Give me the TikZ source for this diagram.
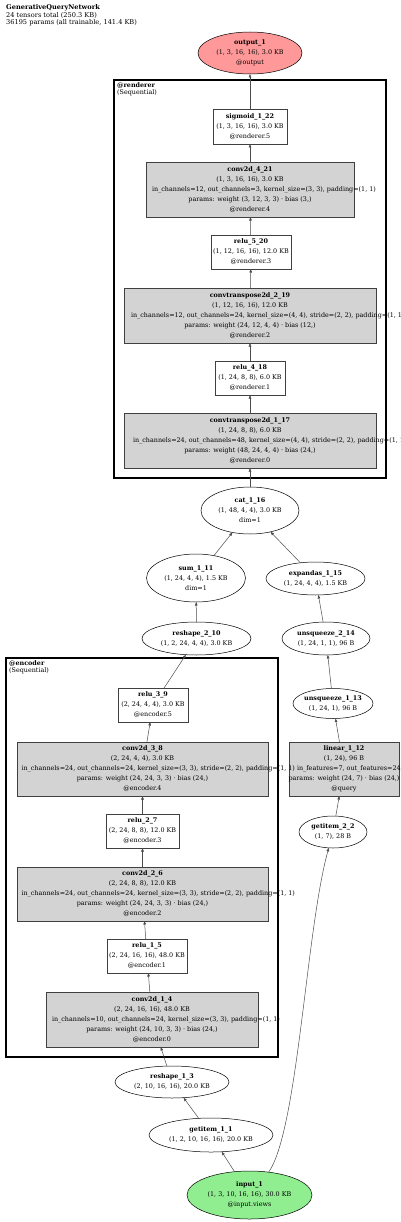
\documentclass[tikz,border=0pt]{standalone}
\usepackage{fontspec}
\setmainfont{DejaVu Serif}
\usetikzlibrary{shapes.geometric,arrows.meta}
\definecolor{outred}{HTML}{FF9999}
\definecolor{ingreen}{HTML}{90EE90}
\definecolor{opgray}{HTML}{D3D3D3}
\begin{document}
\begin{tikzpicture}[x=1pt,y=-1pt,
  txt/.style={font=\fontsize{6.4}{10}\selectfont, align=center, inner sep=0pt},
  ell/.style={ellipse, draw=black, line width=0.5pt, inner sep=0pt, outer sep=0pt},
  box/.style={rectangle, draw=black!75, line width=0.5pt, fill=white, inner sep=0pt, outer sep=0pt},
  opbox/.style={box, fill=opgray},
  cluster/.style={rectangle, draw=black, line width=2.4pt, inner sep=0pt},
  edge/.style={draw=black!70, line width=0.5pt, -{Triangle[length=3.5pt,width=2.6pt]}},
  clab/.style={font=\fontsize{6.4}{7}\selectfont, align=left, inner sep=0pt, anchor=north west}
]
\useasboundingbox (0,0) rectangle (400,1222);

% title
\node[clab, font=\fontsize{6.6}{7.6}\selectfont] (title) at (6,4.5) {\textbf{GenerativeQueryNetwork}\\24 tensors total (250.3 KB)\\36195 params (all trainable, 141.4 KB)};

% clusters
\node[cluster, minimum width=272pt, minimum height=398pt] (renderer) at (250,279) {};
\node[clab] (rendererlab) at (117,82.5) {\textbf{@renderer}\\(Sequential)};
\node[cluster, minimum width=272pt, minimum height=399pt] (encoder) at (142,857.5) {};
\node[clab] (encoderlab) at (9,660.5) {\textbf{@encoder}\\(Sequential)};

% shapes
\node[ell, fill=outred, minimum width=104pt, minimum height=42pt] (output) at (250,53) {};
\node[box, minimum width=74pt, minimum height=35pt] (sigmoid) at (250,126.5) {};
\node[opbox, minimum width=208pt, minimum height=55pt] (conv421) at (250,189.5) {};
\node[box, minimum width=80pt, minimum height=34pt] (relu520) at (251,252) {};
\node[opbox, minimum width=252pt, minimum height=55pt] (convT219) at (250,315.5) {};
\node[box, minimum width=70pt, minimum height=34pt] (relu418) at (250,378) {};
\node[opbox, minimum width=252pt, minimum height=55pt] (convT117) at (250,440.5) {};
\node[ell, minimum width=98pt, minimum height=47pt] (cat) at (250,510.5) {};
\node[ell, minimum width=99pt, minimum height=48pt] (sum) at (196,578) {};
\node[ell, minimum width=99pt, minimum height=33pt] (expandas) at (315.5,578.5) {};
\node[ell, minimum width=109pt, minimum height=33pt] (reshape210) at (196.5,638.5) {};
\node[ell, minimum width=88pt, minimum height=33pt] (unsq214) at (326,638.5) {};
\node[box, minimum width=70pt, minimum height=34pt] (relu39) at (153,705) {};
\node[ell, minimum width=80pt, minimum height=30pt] (unsq113) at (333,703.5) {};
\node[opbox, minimum width=251pt, minimum height=54pt] (conv38) at (142.5,769) {};
\node[opbox, minimum width=110pt, minimum height=54pt] (linear) at (344,769) {};
\node[box, minimum width=73pt, minimum height=34pt] (relu27) at (142.5,831) {};
\node[ell, minimum width=68pt, minimum height=32pt] (getitem22) at (333,832) {};
\node[opbox, minimum width=251pt, minimum height=54pt] (conv26) at (142.5,894) {};
\node[box, minimum width=80pt, minimum height=34pt] (relu15) at (147,956) {};
\node[opbox, minimum width=212pt, minimum height=55pt] (conv14) at (152,1019.5) {};
\node[ell, minimum width=114pt, minimum height=32pt] (reshape13) at (172,1082) {};
\node[ell, minimum width=124pt, minimum height=34pt] (getitem11) at (211,1135) {};
\node[ell, fill=ingreen, minimum width=125pt, minimum height=48pt] (input) at (249.5,1195) {};

% texts
\node[txt] (t-output) at (output) {\textbf{output\_1}\\(1, 3, 16, 16), 3.0 KB\\@output};
\node[txt] (t-sigmoid) at (sigmoid) {\textbf{sigmoid\_1\_22}\\(1, 3, 16, 16), 3.0 KB\\@renderer.5};
\node[txt] (t-conv421) at (conv421) {\textbf{conv2d\_4\_21}\\(1, 3, 16, 16), 3.0 KB\\\makebox[196pt][l]{in\_channels=12, out\_channels=3, kernel\_size=(3, 3), padding=(1, 1)}\\params: weight (3, 12, 3, 3) · bias (3,)\\@renderer.4};
\node[txt] (t-relu520) at (relu520) {\textbf{relu\_5\_20}\\(1, 12, 16, 16), 12.0 KB\\@renderer.3};
\node[txt] (t-convT219) at (convT219) {\textbf{convtranspose2d\_2\_19}\\(1, 12, 16, 16), 12.0 KB\\\makebox[238pt][l]{in\_channels=12, out\_channels=24, kernel\_size=(4, 4), stride=(2, 2), padding=(1, 1)}\\params: weight (24, 12, 4, 4) · bias (12,)\\@renderer.2};
\node[txt] (t-relu418) at (relu418) {\textbf{relu\_4\_18}\\(1, 24, 8, 8), 6.0 KB\\@renderer.1};
\node[txt] (t-convT117) at (convT117) {\textbf{convtranspose2d\_1\_17}\\(1, 24, 8, 8), 6.0 KB\\\makebox[234pt][l]{in\_channels=24, out\_channels=48, kernel\_size=(4, 4), stride=(2, 2), padding=(1, 1)}\\params: weight (48, 24, 4, 4) · bias (24,)\\@renderer.0};
\node[txt] (t-cat) at (cat) {\textbf{cat\_1\_16}\\(1, 48, 4, 4), 3.0 KB\\dim=1};
\node[txt] (t-sum) at (sum) {\textbf{sum\_1\_11}\\(1, 24, 4, 4), 1.5 KB\\dim=1};
\node[txt] (t-expandas) at (expandas) {\textbf{expandas\_1\_15}\\(1, 24, 4, 4), 1.5 KB};
\node[txt] (t-reshape210) at (reshape210) {\textbf{reshape\_2\_10}\\(1, 2, 24, 4, 4), 3.0 KB};
\node[txt] (t-unsq214) at (unsq214) {\textbf{unsqueeze\_2\_14}\\(1, 24, 1, 1), 96 B};
\node[txt] (t-relu39) at (relu39) {\textbf{relu\_3\_9}\\(2, 24, 4, 4), 3.0 KB\\@encoder.5};
\node[txt] (t-unsq113) at (unsq113) {\textbf{unsqueeze\_1\_13}\\(1, 24, 1), 96 B};
\node[txt] (t-conv38) at (conv38) {\textbf{conv2d\_3\_8}\\(2, 24, 4, 4), 3.0 KB\\\makebox[242pt][l]{in\_channels=24, out\_channels=24, kernel\_size=(3, 3), stride=(2, 2), padding=(1, 1)}\\params: weight (24, 24, 3, 3) · bias (24,)\\@encoder.4};
\node[txt] (t-linear) at (linear) {\textbf{linear\_1\_12}\\(1, 24), 96 B\\\makebox[94pt][l]{in\_features=7, out\_features=24, bias=True}\\params: weight (24, 7) · bias (24,)\\@query};
\node[txt] (t-relu27) at (relu27) {\textbf{relu\_2\_7}\\(2, 24, 8, 8), 12.0 KB\\@encoder.3};
\node[txt] (t-getitem22) at (getitem22) {\textbf{getitem\_2\_2}\\(1, 7), 28 B};
\node[txt] (t-conv26) at (conv26) {\textbf{conv2d\_2\_6}\\(2, 24, 8, 8), 12.0 KB\\\makebox[242pt][l]{in\_channels=24, out\_channels=24, kernel\_size=(3, 3), stride=(2, 2), padding=(1, 1)}\\params: weight (24, 24, 3, 3) · bias (24,)\\@encoder.2};
\node[txt] (t-relu15) at (relu15) {\textbf{relu\_1\_5}\\(2, 24, 16, 16), 48.0 KB\\@encoder.1};
\node[txt] (t-conv14) at (conv14) {\textbf{conv2d\_1\_4}\\(2, 24, 16, 16), 48.0 KB\\\makebox[200pt][l]{in\_channels=10, out\_channels=24, kernel\_size=(3, 3), padding=(1, 1)}\\params: weight (24, 10, 3, 3) · bias (24,)\\@encoder.0};
\node[txt] (t-reshape13) at (reshape13) {\textbf{reshape\_1\_3}\\(2, 10, 16, 16), 20.0 KB};
\node[txt] (t-getitem11) at (getitem11) {\textbf{getitem\_1\_1}\\(1, 2, 10, 16, 16), 20.0 KB};
\node[txt] (t-input) at (input) {\textbf{input\_1}\\(1, 3, 10, 16, 16), 30.0 KB\\@input.views};

% edges
\draw[edge] (sigmoid) -- (output);
\draw[edge] (conv421) -- (sigmoid);
\draw[edge] (relu520) -- (conv421);
\draw[edge] (convT219) -- (relu520);
\draw[edge] (relu418) -- (convT219);
\draw[edge] (convT117) -- (relu418);
\draw[edge] (cat) -- (convT117);
\draw[edge] (sum) -- (cat);
\draw[edge] (expandas) -- (cat);
\draw[edge] (reshape210) -- (sum);
\draw[edge] (relu39) -- (reshape210);
\draw[edge] (unsq214) -- (expandas);
\draw[edge] (unsq113) -- (unsq214);
\draw[edge] (linear) -- (unsq113);
\draw[edge] (getitem22) -- (linear);
\draw[edge] (conv38) -- (relu39);
\draw[edge] (relu27) -- (conv38);
\draw[edge] (conv26) -- (relu27);
\draw[edge] (relu15) -- (conv26);
\draw[edge] (conv14) -- (relu15);
\draw[edge] (reshape13) -- (conv14);
\draw[edge] (getitem11) -- (reshape13);
\draw[edge] (input) -- (getitem11);
\draw[edge] (input.50) .. controls (298,1130) and (306,930) .. (getitem22.255);
\end{tikzpicture}
\end{document}
